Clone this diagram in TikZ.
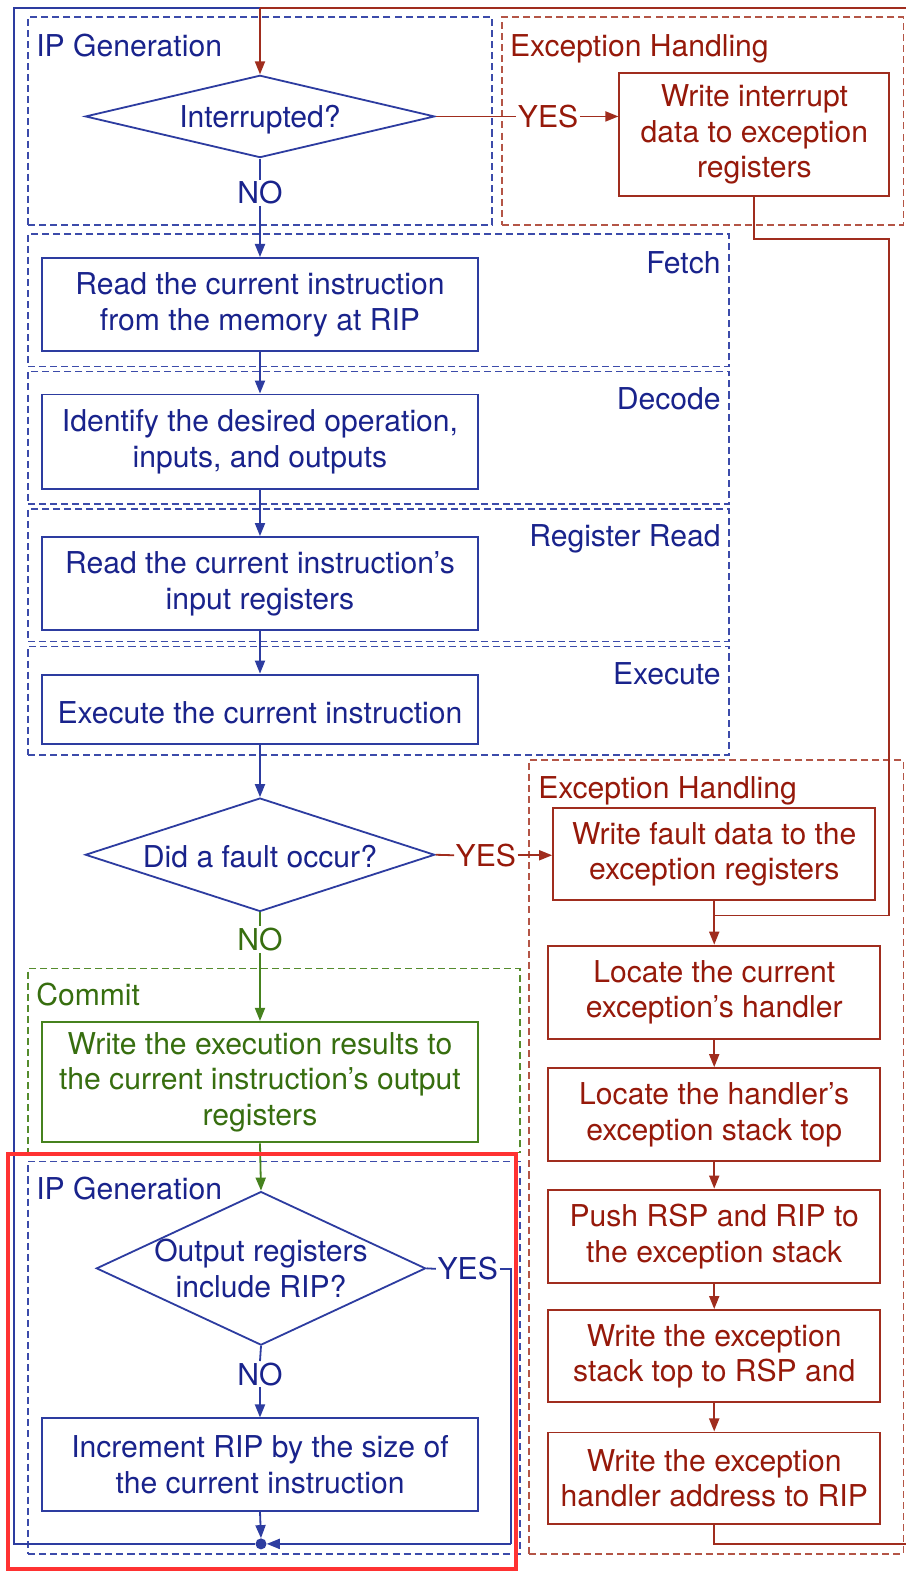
\documentclass[tikz,border=0pt]{standalone}
\usepackage{fontspec}
\setmainfont{TeX Gyre Heros}
\usetikzlibrary{arrows.meta,shapes.geometric}
\definecolor{bt}{RGB}{25,35,140}
\definecolor{bl}{RGB}{45,60,160}
\definecolor{bd}{RGB}{60,75,170}
\definecolor{rt}{RGB}{150,25,10}
\definecolor{rl}{RGB}{160,45,30}
\definecolor{rd}{RGB}{180,85,70}
\definecolor{gt}{RGB}{55,110,15}
\definecolor{gl}{RGB}{70,130,30}
\definecolor{gd}{RGB}{85,140,45}
\definecolor{hl}{RGB}{255,50,50}
\newcommand{\fs}{\fontsize{30}{35.5}\selectfont}
\tikzset{
  x=1pt, y=-1pt,
  grp/.style={draw, line width=1.5pt, dash pattern=on 7pt off 4pt, inner sep=0pt, minimum width=#1},
  grp/.default=100pt,
  box/.style={draw, line width=1.9pt, inner sep=0pt, align=center, font=\fs, execute at begin node={\rule{0pt}{28pt}}},
  dia/.style={draw, diamond, line width=1.8pt, inner sep=0pt},
  txt/.style={inner sep=0pt, align=center, font=\fs},
  lbl/.style={inner sep=1.5pt, font=\fs},
  ln/.style={line width=1.8pt},
  arr/.style={line width=1.8pt, -{Triangle[length=13pt,width=10pt]}},
  blue/.style={color=bl, text=bt},
  red/.style={color=rl, text=rt},
  green/.style={color=gl, text=gt},
}
\begin{document}
\begin{tikzpicture}
\useasboundingbox (0,0) rectangle (902,1568);
\fill[white] (0,0) rectangle (902,1568);

% group frames
\node[grp=462pt, minimum height=207pt, draw=bd] (gip1) at (259,120.5) {};
\node[grp=400pt, minimum height=207pt, draw=rd] (gex1) at (700,120.5) {};
\node[grp=698pt, minimum height=132pt, draw=bd] (gfe) at (377,299) {};
\node[grp=698pt, minimum height=132pt, draw=bd] (gde) at (377,436) {};
\node[grp=698pt, minimum height=132pt, draw=bd] (grr) at (377,573) {};
\node[grp=698pt, minimum height=108pt, draw=bd] (gexe) at (377,698) {};
\node[grp=373pt, minimum height=791pt, draw=rd] (gex2) at (713.5,1152.5) {};
\node[grp=490pt, minimum height=183pt, draw=gd] (gcom) at (273,1056.5) {};
\node[grp=490pt, minimum height=391pt, draw=bd] (gip2) at (273,1352.5) {};

% group labels
\node[txt, text=bt, anchor=base west] (lip1) at (36,56) {IP Generation};
\node[txt, text=rt, anchor=base west] (lex1) at (508,56) {Exception Handling};
\node[txt, text=bt, anchor=base east] (lfe) at (718,272) {Fetch};
\node[txt, text=bt, anchor=base east] (lde) at (718,408) {Decode};
\node[txt, text=bt, anchor=base east] (lrr) at (718,544) {Register Read};
\node[txt, text=bt, anchor=base east] (lexe) at (718,682) {Execute};
\node[txt, text=rt, anchor=base west] (lex2) at (536,795) {Exception Handling};
\node[txt, text=gt, anchor=base west] (lcom) at (36,1002) {Commit};
\node[txt, text=bt, anchor=base west] (lip2) at (36,1195) {IP Generation};

% diamonds
\node[dia, draw=bl, minimum width=348pt, minimum height=82pt] (d1) at (259,116) {};
\node[txt, text=bt, yshift=-3pt] (t1) at (d1.center) {Interrupted?};
\node[dia, draw=bl, minimum width=348pt, minimum height=113pt] (d2) at (259,851.5) {};
\node[txt, text=bt, yshift=-2pt] (t2) at (d2.center) {Did a fault occur?};
\node[dia, draw=bl, minimum width=328pt, minimum height=153pt] (d3) at (260,1263.5) {};
\node[txt, text=bt] (t3) at (d3.center) {Output registers\\include RIP?};

% process boxes
\node[box, blue, minimum width=434pt, minimum height=93pt] (bfe) at (259,303.5) {Read the current instruction\\from the memory at RIP};
\node[box, blue, minimum width=434pt, minimum height=94pt] (bde) at (259,440) {Identify the desired operation,\\inputs, and outputs};
\node[box, blue, minimum width=434pt, minimum height=93pt] (brr) at (259,581.5) {Read the current instruction’s\\input registers};
\node[box, blue, minimum width=434pt, minimum height=69pt] (bexe) at (259,706.5) {Execute the current instruction};
\node[box, green, minimum width=434pt, minimum height=120pt] (bcom) at (259,1078) {Write the execution results to\\the current instruction’s output\\registers};
\node[box, blue, minimum width=434pt, minimum height=92pt] (binc) at (259,1459) {Increment RIP by the size of\\the current instruction};

\node[box, red, minimum width=269pt, minimum height=122pt] (bint) at (751.5,134) {Write interrupt\\data to exception\\registers};
\node[box, red, minimum width=321pt, minimum height=92pt] (bfa) at (711.5,851) {Write fault data to the\\exception registers};
\node[box, red, minimum width=331pt, minimum height=93pt] (bl1) at (711.5,988.5) {Locate the current\\exception’s handler};
\node[box, red, minimum width=331pt, minimum height=93pt] (bl2) at (711.5,1110.5) {Locate the handler’s\\exception stack top};
\node[box, red, minimum width=331pt, minimum height=93pt] (bpu) at (711.5,1231.5) {Push RSP and RIP to\\the exception stack};
\node[box, red, minimum width=331pt, minimum height=92pt] (bw1) at (711.5,1351) {Write the exception\\stack top to RSP and};
\node[box, red, minimum width=331pt, minimum height=91pt] (bw2) at (711.5,1472.5) {Write the exception\\handler address to RIP};

% connector labels
\node[lbl, text=bt] (no1) at (259,192) {NO};
\node[lbl, text=rt] (yes1) at (546,116) {YES};
\node[lbl, text=rt] (yes2) at (484,852) {YES};
\node[lbl, text=gt] (no2) at (259,936) {NO};
\node[lbl, text=bt] (yes3) at (466,1264) {YES};
\node[lbl, text=bt] (no3) at (259,1369) {NO};

% merge dot
\node[circle, fill=bl, inner sep=0pt, minimum size=11pt] (dot) at (260,1538) {};

% loop coordinates
\coordinate (lb) at (14,1538);
\coordinate (lt) at (14,8);
\coordinate (tp) at (259,8);
\coordinate (rtc) at (912,8);
\coordinate (rbc) at (912,1538);
\coordinate (c1) at (886,238);
\coordinate (c2) at (886,912);
\coordinate (j1) at (711.5,912);
\coordinate (c3) at (509,1538);

% connectors
\draw[ln, bl] (dot) -- (lb) -- (lt) -- (tp);
\draw[ln, rl] (bw2.south) |- (rbc) -- (rtc) -- (tp);
\draw[arr, rl] (tp) -- (d1.north);
\draw[ln, rl] (d1.east) -- (yes1.west);
\draw[arr, rl] (yes1.east) -- (yes1.east -| bint.west);
\draw[ln, rl] (bint.south) |- (c1) -- (c2) -- (j1);
\draw[ln, bl] (d1.south) -- (no1.north);
\draw[arr, bl] (no1.south) -- (bfe.north);
\draw[arr, bl] (bfe.south) -- (bde.north);
\draw[arr, bl] (bde.south) -- (brr.north);
\draw[arr, bl] (brr.south) -- (bexe.north);
\draw[arr, bl] (bexe.south) -- (d2.north);
\draw[ln, rl] (d2.east) -- (yes2.west);
\draw[arr, rl] (yes2.east) -- (yes2.east -| bfa.west);
\draw[ln, gl] (d2.south) -- (no2.north);
\draw[arr, gl] (no2.south) -- (bcom.north);
\draw[arr, gl] (bcom.south) -- (d3.north);
\draw[ln, bl] (d3.east) -- (yes3.west);
\draw[ln, bl] (yes3.east) -| (c3);
\draw[arr, bl] (c3) -- (dot.east);
\draw[ln, bl] (d3.south) -- (no3.north);
\draw[arr, bl] (no3.south) -- (binc.north);
\draw[arr, bl] (binc.south) -- (dot.north);
\draw[arr, rl] (bfa.south) -- (bl1.north);
\draw[arr, rl] (bl1.south) -- (bl2.north);
\draw[arr, rl] (bl2.south) -- (bpu.north);
\draw[arr, rl] (bpu.south) -- (bw1.north);
\draw[arr, rl] (bw1.south) -- (bw2.north);

% highlight frame
\draw[line width=4pt, hl] (8,1150) rectangle (514,1563);
\end{tikzpicture}
\end{document}
